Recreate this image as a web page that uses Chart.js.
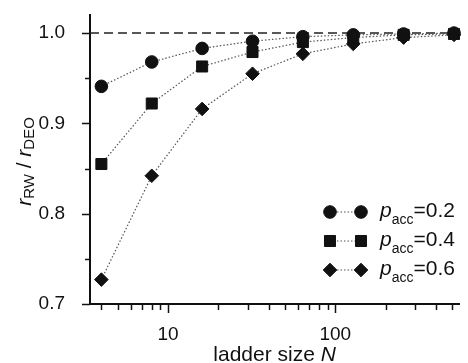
<!DOCTYPE html>
<html>
<head>
<meta charset="utf-8">
<script src="https://cdn.jsdelivr.net/npm/chart.js@4.4.1/dist/chart.umd.min.js"></script>
<style>
  html, body { margin: 0; padding: 0; background: #fff; }
  #wrap { width: 468px; height: 363px; position: relative; }
</style>
</head>
<body>
<div id="wrap"><canvas id="ratioChart"></canvas></div>
<script>
// ladder sizes (x) and the ratio r_RW / r_DEO for each acceptance rate
const ladderSizes = [4, 8, 16, 32, 64, 128, 256, 512];
const ratioP02 = [0.941, 0.968, 0.983, 0.991, 0.996, 0.998, 0.999, 1.000];
const ratioP04 = [0.855, 0.922, 0.963, 0.979, 0.990, 0.995, 0.998, 0.999];
const ratioP06 = [0.727, 0.842, 0.916, 0.955, 0.977, 0.988, 0.995, 0.998];
const seriesNames = ['0.2', '0.4', '0.6'];

// ticks
const xTicks = [4, 5, 6, 7, 8, 9, 10, 20, 30, 40, 50, 60, 70, 80, 90, 100, 200, 300, 400, 500];
const xLabelled = [10, 100];
const yTicks = [0.7, 0.75, 0.8, 0.85, 0.9, 0.95, 1.0];
const yLabelled = [0.7, 0.8, 0.9, 1.0];
const refValue = 1.0;

const FONT = "'Liberation Sans', Arial, sans-serif";
const INK = '#111';

function toPoints(vals) {
    return ladderSizes.map((n, i) => ({ x: n, y: vals[i] }));
}

function series(vals, style, radius) {
    return {
        data: toPoints(vals),
        showLine: true,
        borderColor: '#555',
        borderWidth: 1.2,
        borderDash: [1.5, 2],
        pointStyle: style,
        pointRadius: radius,
        pointHoverRadius: radius,
        pointBackgroundColor: INK,
        pointBorderColor: INK,
        pointBorderWidth: 1,
        clip: false
    };
}

// text built from pieces: [text, italic, sub]
function richText(ctx, parts, x, y, big, small, drop) {
    let cx = x;
    parts.forEach(p => {
        ctx.font = (p[1] ? 'italic ' : '') + (p[2] ? small : big) + 'px ' + FONT;
        ctx.fillText(p[0], cx, p[2] ? y + drop : y);
        cx += ctx.measureText(p[0]).width;
    });
    return cx - x;
}
function richWidth(ctx, parts, big, small) {
    let w = 0;
    parts.forEach(p => {
        ctx.font = (p[1] ? 'italic ' : '') + (p[2] ? small : big) + 'px ' + FONT;
        w += ctx.measureText(p[0]).width;
    });
    return w;
}

const decor = {
    id: 'decor',
    beforeDatasetsDraw(chart) {
        const { ctx, chartArea, scales } = chart;
        const y = scales.y.getPixelForValue(refValue);
        ctx.save();
        ctx.strokeStyle = '#222';
        ctx.lineWidth = 1.6;
        ctx.setLineDash([9, 5]);
        ctx.beginPath();
        ctx.moveTo(chartArea.left, y);
        ctx.lineTo(chartArea.right, y);
        ctx.stroke();
        ctx.restore();
    },
    afterDraw(chart) {
        const { ctx, chartArea, scales } = chart;
        ctx.save();
        ctx.strokeStyle = INK;
        ctx.lineWidth = 1.5;
        // y tick marks
        yTicks.forEach(v => {
            const y = Math.round(scales.y.getPixelForValue(v)) + 0.5;
            const len = yLabelled.includes(v) ? 8 : 5;
            ctx.beginPath();
            ctx.moveTo(chartArea.left - len, y);
            ctx.lineTo(chartArea.left, y);
            ctx.stroke();
        });
        // x tick marks
        xTicks.forEach(v => {
            const x = Math.round(scales.x.getPixelForValue(v)) + 0.5;
            const len = xLabelled.includes(v) ? 9 : 6;
            ctx.beginPath();
            ctx.moveTo(x, chartArea.bottom);
            ctx.lineTo(x, chartArea.bottom + len);
            ctx.stroke();
        });

        ctx.fillStyle = INK;
        ctx.textBaseline = 'alphabetic';
        ctx.textAlign = 'left';

        // x title
        const xParts = [['ladder size ', false, false], ['N', true, false]];
        const xw = richWidth(ctx, xParts, 21, 15);
        richText(ctx, xParts, (chartArea.left + chartArea.right) / 2 - xw / 2, 361, 21, 15, 0);

        // y title, rotated
        const yParts = [['r', true, false], ['RW', false, true], [' / ', false, false], ['r', true, false], ['DEO', false, true]];
        const yw = richWidth(ctx, yParts, 21, 15);
        ctx.save();
        ctx.translate(31, (chartArea.top + chartArea.bottom) / 2 + 2 + yw / 2);
        ctx.rotate(-Math.PI / 2);
        richText(ctx, yParts, 0, 0, 21, 15, 3);
        ctx.restore();

        // legend
        chart.data.datasets.forEach((ds, i) => {
            const y = 212 + i * 29;
            ctx.save();
            ctx.strokeStyle = '#555';
            ctx.lineWidth = 1.2;
            ctx.setLineDash([1.5, 2]);
            ctx.beginPath();
            ctx.moveTo(330, y);
            ctx.lineTo(361, y);
            ctx.stroke();
            ctx.restore();
            const opts = { pointStyle: ds.pointStyle, radius: ds.pointRadius, rotation: 0, borderWidth: 1 };
            ctx.fillStyle = INK;
            ctx.strokeStyle = INK;
            ctx.lineWidth = 1;
            Chart.helpers.drawPoint(ctx, opts, 330, y);
            Chart.helpers.drawPoint(ctx, opts, 361, y);
            ctx.fillStyle = INK;
            richText(ctx, [['p', true, false], ['acc', false, true], ['=' + seriesNames[i], false, false]], 380, y + 5, 21, 14, 7);
        });
        ctx.restore();
    }
};

const ctx = document.getElementById('ratioChart').getContext('2d');
new Chart(ctx, {
    type: 'scatter',
    data: {
        datasets: [
            series(ratioP02, 'circle', 6.3),
            series(ratioP04, 'rect', 7.8),
            series(ratioP06, 'rectRot', 6.8)
        ]
    },
    options: {
        responsive: true,
        maintainAspectRatio: false,
        animation: false,
        events: [],
        layout: { padding: { top: 15, right: -5, left: 0, bottom: 0 } },
        plugins: {
            legend: { display: false },
            tooltip: { enabled: false }
        },
        scales: {
            x: {
                type: 'logarithmic',
                min: 3.42,
                max: 550,
                grid: { display: false },
                border: { display: true, color: INK, width: 2 },
                afterBuildTicks: s => { s.ticks = xTicks.map(v => ({ value: v })); },
                afterFit: s => { s.height = 59; s.paddingLeft = 0; s.paddingRight = 0; },
                ticks: {
                    autoSkip: false,
                    maxRotation: 0,
                    padding: 11,
                    color: INK,
                    font: { family: FONT, size: 19 },
                    callback: v => xLabelled.includes(v) ? String(v) : ''
                }
            },
            y: {
                min: 0.7,
                max: 1.02,
                grid: { display: false },
                border: { display: true, color: INK, width: 2 },
                afterBuildTicks: s => { s.ticks = yTicks.map(v => ({ value: v })); },
                afterFit: s => { s.width = 90; s.paddingTop = 0; s.paddingBottom = 0; },
                ticks: {
                    autoSkip: false,
                    padding: 17,
                    color: INK,
                    font: { family: FONT, size: 19 },
                    callback: v => yLabelled.includes(v) ? v.toFixed(1) : ''
                }
            }
        }
    },
    plugins: [decor]
});
</script>
</body>
</html>
